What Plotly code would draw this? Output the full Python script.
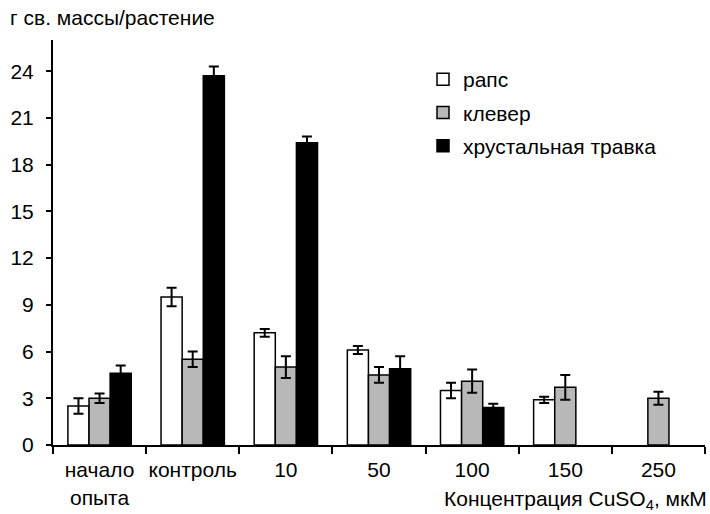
import plotly.graph_objects as go

categories = ["начало<br>опыта", "контроль", "10", "50", "100", "150", "250"]

raps = [2.5, 9.5, 7.2, 6.1, 3.5, 2.9, None]
raps_err = [0.5, 0.6, 0.25, 0.25, 0.5, 0.2, None]

klever = [3.0, 5.5, 5.0, 4.5, 4.1, 3.7, 3.0]
klever_err = [0.3, 0.5, 0.7, 0.5, 0.75, 0.8, 0.42]

travka = [4.6, 23.7, 19.4, 4.9, 2.4, None, None]
travka_err = [0.5, 0.6, 0.4, 0.8, 0.25, None, None]

series = [
    ("рапс", raps, raps_err, "#ffffff"),
    ("клевер", klever, klever_err, "#b8b8b8"),
    ("хрустальная травка", travka, travka_err, "#000000"),
]

FONT = "Liberation Sans, Arial, sans-serif"
FS = 21

fig = go.Figure()
for i, (name, vals, errs, color) in enumerate(series):
    fig.add_trace(go.Bar(
        name=name,
        x=categories,
        y=vals,
        legendgroup=f"g{i}",
        marker=dict(color=color, line=dict(color="#000000", width=1.5)),
        error_y=dict(type="data", array=errs, visible=True,
                     color="#000000", thickness=2, width=5),
    ))

PW, PH = 652, 405

fig.update_layout(
    width=710, height=514,
    paper_bgcolor="white", plot_bgcolor="white",
    barmode="group", bargap=0.32, bargroupgap=0,
    margin=dict(l=53, r=5, t=40, b=69, autoexpand=False),
    font=dict(family=FONT, size=FS, color="#000000"),
    showlegend=True,
    legend=dict(x=(423 - 53) / PW, y=1 - (19) / PH, xanchor="left", yanchor="top",
                tracegroupgap=3, bgcolor="rgba(0,0,0,0)",
                font=dict(size=FS), itemwidth=30),
    xaxis=dict(
        type="category",
        showline=True, linecolor="#000000", linewidth=2,
        ticks="outside", tickson="boundaries", ticklen=7, tickwidth=2,
        tickcolor="#000000", showgrid=False, zeroline=False,
        tickfont=dict(size=FS), tickangle=0, ticklabelstandoff=5,
    ),
    yaxis=dict(
        range=[0, 26], dtick=3, tick0=0,
        showline=True, linecolor="#000000", linewidth=2,
        ticks="outside", ticklen=5, tickwidth=2, tickcolor="#000000",
        showgrid=False, zeroline=False,
        tickfont=dict(size=FS), ticklabelstandoff=8,
    ),
    annotations=[
        dict(text="г св. массы/растение", xref="paper", yref="paper",
             x=(8 - 53) / PW, y=1 + (40 - 17) / PH, xanchor="left", yanchor="middle",
             showarrow=False, font=dict(size=FS)),
        dict(text="Концентрация CuSO<sub>4</sub>, мкМ", xref="paper", yref="paper",
             x=1 + 4 / PW, y=-(500 - 445) / PH, xanchor="right", yanchor="middle",
             showarrow=False, font=dict(size=FS)),
    ],
)

fig.write_html("out.html", config={"displayModeBar": False},
               post_script="document.body.style.margin='0';document.body.style.padding='0';")
